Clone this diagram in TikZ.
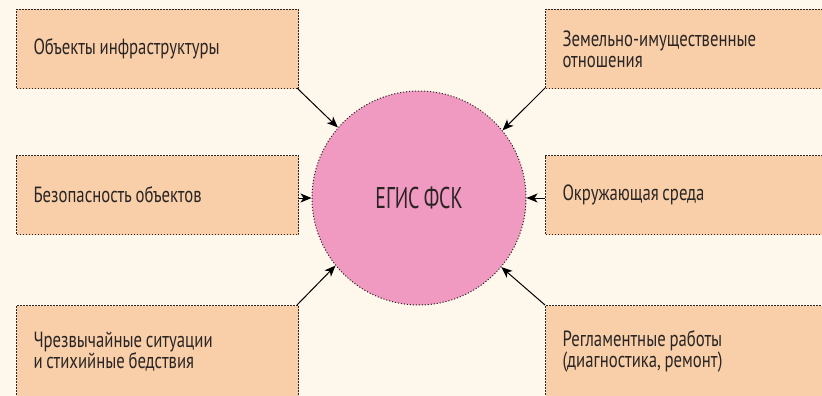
\documentclass[tikz,border=0pt]{standalone}
\usepackage{fontspec}
\setmainfont[FakeStretch=0.76]{PT Sans}
\newfontfamily\hubfont[FakeStretch=0.66,WordSpace=0.8]{PT Sans}
\usetikzlibrary{arrows.meta}
\definecolor{bgc}{HTML}{FEF7EB}
\definecolor{boxc}{HTML}{F8CFA9}
\definecolor{circc}{HTML}{F19AC1}
\definecolor{txtc}{HTML}{2A2524}
\definecolor{edgec}{HTML}{2A2524}
\tikzset{
  dots/.style={draw=edgec, line width=1pt, dash pattern=on 1.1pt off 1.9pt},
  box/.style={dots, fill=boxc,
    rectangle, anchor=north west, minimum width=282pt, text width=248pt, inner xsep=17pt,
    inner ysep=0pt, align=left, text=txtc, font=\fontsize{22pt}{21pt}\selectfont,
    execute at begin node={\spaceskip=0.17em\relax\xspaceskip=0.2em\relax}},
  hub/.style={dots, circle, fill=circc,
    minimum size=214pt, inner sep=0pt, text=txtc, font=\hubfont\fontsize{30pt}{30pt}\selectfont},
  arr/.style={draw=black, line width=1pt, -{Stealth[length=11pt,width=9pt,inset=3pt]}}
}
\begin{document}
\begin{tikzpicture}[x=1pt,y=-1pt]
\useasboundingbox (0,0) rectangle (822,396);
\clip (0,0) rectangle (822,396);
\fill[bgc] (0,0) rectangle (822,396);
\node[box, minimum height=79pt] (tl) at (16,9) {Объекты инфраструктуры};
\node[box, minimum height=79pt] (ml) at (16,155) {Безопасность объектов};
\node[box, minimum height=92pt] (bl) at (16,305) {Чрезвычайные ситуации\\и стихийные бедствия};
\node[box, minimum height=79pt] (tr) at (545,9) {Земельно-имущественные\\отношения};
\node[box, minimum height=79pt] (mr) at (545,155) {Окружающая среда};
\node[box, minimum height=92pt] (br) at (545,305) {Регламентные работы\\(диагностика, ремонт)};
\node[hub] (c) at (419,198) {ЕГИС ФСК};
\coordinate (tlc) at (297,88);
\coordinate (blc) at (297,305);
\coordinate (trc) at (545,88);
\coordinate (brc) at (545,305);
\draw[arr] (tlc) -- (c.139.5);
\draw[arr] (ml.east |- c.west) -- (c.west);
\draw[arr] (blc) -- (c.219);
\draw[arr] (trc) -- (c.39.8);
\draw[arr] (mr.west |- c.east) -- (c.east);
\draw[arr] (brc) -- (c.320.5);
\end{tikzpicture}
\end{document}
